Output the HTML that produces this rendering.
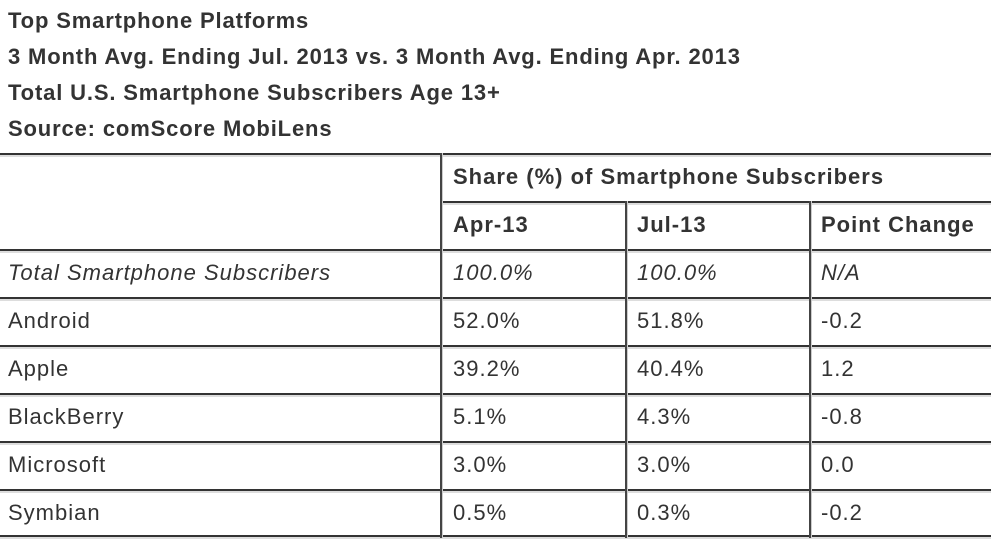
<!DOCTYPE html>
<html><head><style>
body{margin:0;width:991px;height:538px;background:#fff;position:relative;overflow:hidden;font-family:"Liberation Sans",Arial,sans-serif;color:#333}
.t{position:absolute;left:8px;font-weight:bold;font-size:22px;letter-spacing:0.85px;line-height:24px;white-space:nowrap}
.c{position:absolute;font-size:22px;letter-spacing:1px;line-height:24px;white-space:nowrap}
.b{font-weight:bold}
.i{font-style:italic}
.h{position:absolute;height:2px;background:#333;border-bottom:2px solid #ddd}
.v{position:absolute;width:2px;background:#444;border-right:1px solid #ccc}
</style></head><body>
<div class="t" style="top:9px">Top Smartphone Platforms</div>
<div class="t" style="top:45px">3 Month Avg. Ending Jul. 2013 vs. 3 Month Avg. Ending Apr. 2013</div>
<div class="t" style="top:81px">Total U.S. Smartphone Subscribers Age 13+</div>
<div class="t" style="top:117px">Source: comScore MobiLens</div>

<div class="h" style="left:0;width:991px;top:153px"></div>
<div class="h" style="left:441px;width:550px;top:201px"></div>
<div class="h" style="left:0;width:991px;top:249px"></div>
<div class="h" style="left:0;width:991px;top:297px"></div>
<div class="h" style="left:0;width:991px;top:345px"></div>
<div class="h" style="left:0;width:991px;top:393px"></div>
<div class="h" style="left:0;width:991px;top:441px"></div>
<div class="h" style="left:0;width:991px;top:489px"></div>
<div class="h" style="left:0;width:991px;top:535px"></div>

<div class="v" style="left:440px;top:153px;height:385px"></div>
<div class="v" style="left:625px;top:201px;height:337px"></div>
<div class="v" style="left:809px;top:201px;height:337px"></div>

<div class="c b" style="left:453px;top:165px">Share (%) of Smartphone Subscribers</div>
<div class="c b" style="left:453px;top:213px">Apr-13</div>
<div class="c b" style="left:637px;top:213px">Jul-13</div>
<div class="c b" style="left:821px;top:213px">Point Change</div>

<div class="c i" style="left:8px;top:261px">Total Smartphone Subscribers</div>
<div class="c i" style="left:453px;top:261px">100.0%</div>
<div class="c i" style="left:637px;top:261px">100.0%</div>
<div class="c i" style="left:821px;top:261px">N/A</div>

<div class="c" style="left:8px;top:309px">Android</div>
<div class="c" style="left:453px;top:309px">52.0%</div>
<div class="c" style="left:637px;top:309px">51.8%</div>
<div class="c" style="left:821px;top:309px">-0.2</div>

<div class="c" style="left:8px;top:357px">Apple</div>
<div class="c" style="left:453px;top:357px">39.2%</div>
<div class="c" style="left:637px;top:357px">40.4%</div>
<div class="c" style="left:821px;top:357px">1.2</div>

<div class="c" style="left:8px;top:405px">BlackBerry</div>
<div class="c" style="left:453px;top:405px">5.1%</div>
<div class="c" style="left:637px;top:405px">4.3%</div>
<div class="c" style="left:821px;top:405px">-0.8</div>

<div class="c" style="left:8px;top:453px">Microsoft</div>
<div class="c" style="left:453px;top:453px">3.0%</div>
<div class="c" style="left:637px;top:453px">3.0%</div>
<div class="c" style="left:821px;top:453px">0.0</div>

<div class="c" style="left:8px;top:501px">Symbian</div>
<div class="c" style="left:453px;top:501px">0.5%</div>
<div class="c" style="left:637px;top:501px">0.3%</div>
<div class="c" style="left:821px;top:501px">-0.2</div>
</body></html>
